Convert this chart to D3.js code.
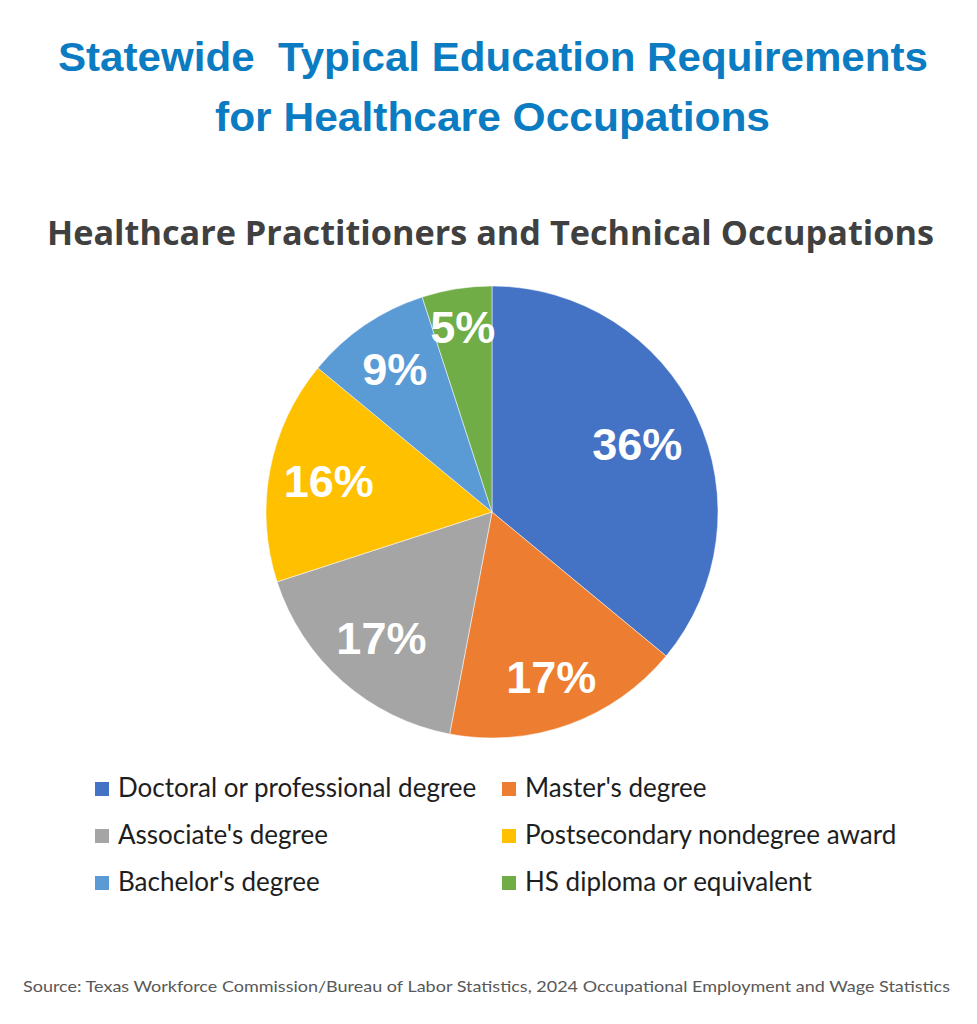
<!DOCTYPE html>
<html>
<head>
<meta charset="utf-8">
<script src="https://cdn.jsdelivr.net/npm/d3@7"></script>
<style>
  html, body { margin: 0; padding: 0; background: #ffffff; }
  svg { display: block; }
</style>
</head>
<body>
<svg id="chart" width="977" height="1024"></svg>
<script>
// ---- Data ----
const categories = [
  "Doctoral or professional degree",
  "Master's degree",
  "Associate's degree",
  "Postsecondary nondegree award",
  "Bachelor's degree",
  "HS diploma or equivalent"
];
const shares = [36, 17, 17, 16, 9, 5];
const valueLabels = ["36%", "17%", "17%", "16%", "9%", "5%"];
const titleLines = ["Statewide  Typical Education Requirements", "for Healthcare Occupations"];
const subtitle = "Healthcare Practitioners and Technical Occupations";
const sourceNote = "Source: Texas Workforce Commission/Bureau of Labor Statistics, 2024 Occupational Employment and Wage Statistics";

// ---- Style / layout ----
const colors = ["#4472C4", "#ED7D31", "#A5A5A5", "#FFC000", "#5B9BD5", "#70AD47"];
const labelRadiusFactor = [0.71, 0.775, 0.74, 0.735, 0.765, 0.83];
const cx = 492, cy = 512, R = 226;

const svg = d3.select("#chart");
svg.append("rect").attr("width", 977).attr("height", 1024).attr("fill", "#ffffff");

// Titles
const titleY = [71, 131];
const titleX = [58, 215];
const titleW = [870, 555];
titleLines.forEach((t, i) => {
  svg.append("text")
    .attr("x", titleX[i]).attr("y", titleY[i])
    .attr("font-family", "'Liberation Sans', Arial, sans-serif")
    .attr("font-weight", "bold")
    .attr("font-size", 40)
    .attr("fill", "#0b7bc2")
    .attr("textLength", titleW[i])
    .attr("lengthAdjust", "spacingAndGlyphs")
    .style("white-space", "pre")
    .text(t);
});

svg.append("text")
  .attr("x", 47).attr("y", 245)
  .attr("font-family", "'Open Sans', Lato, sans-serif")
  .attr("font-weight", "bold")
  .attr("font-size", 34)
  .attr("fill", "#404040")
  .attr("textLength", 887)
  .attr("lengthAdjust", "spacingAndGlyphs")
  .text(subtitle);

// Pie
const pie = d3.pie().sort(null).value(d => d)(shares);
const arc = d3.arc().innerRadius(0).outerRadius(R);
const g = svg.append("g").attr("transform", `translate(${cx},${cy})`);
g.selectAll("path.slice")
  .data(pie)
  .join("path")
  .attr("class", "slice")
  .attr("d", arc)
  .attr("fill", (d, i) => colors[i])
  .attr("stroke", "#ffffff")
  .attr("stroke-width", 0.5);

g.selectAll("text.lbl")
  .data(pie)
  .join("text")
  .attr("class", "lbl")
  .attr("transform", (d, i) => {
    const a = (d.startAngle + d.endAngle) / 2;
    const r = R * labelRadiusFactor[i];
    return `translate(${r * Math.sin(a)},${-r * Math.cos(a)})`;
  })
  .attr("text-anchor", "middle")
  .attr("dy", "0.36em")
  .attr("font-family", "'Liberation Sans', Arial, sans-serif")
  .attr("font-weight", "bold")
  .attr("font-size", 45)
  .attr("fill", "#ffffff")
  .text((d, i) => valueLabels[i]);

// Legend
const colX = [95, 502];
const rowY = [797, 844, 891];
const legend = svg.append("g");
categories.forEach((c, i) => {
  const col = i % 2, row = Math.floor(i / 2);
  const item = legend.append("g").attr("transform", `translate(${colX[col]},${rowY[row]})`);
  item.append("rect")
    .attr("x", 0).attr("y", -15)
    .attr("width", 14).attr("height", 14)
    .attr("fill", colors[i]);
  item.append("text")
    .attr("x", 23).attr("y", 0)
    .attr("font-family", "Lato, 'Open Sans', sans-serif")
    .attr("font-size", 26)
    .attr("fill", "#1e1e1e")
    .text(c);
});

// Source
svg.append("text")
  .attr("x", 23).attr("y", 992)
  .attr("font-family", "Lato, 'Open Sans', sans-serif")
  .attr("font-size", 16)
  .attr("fill", "#595959")
  .attr("textLength", 927)
  .attr("lengthAdjust", "spacingAndGlyphs")
  .text(sourceNote);
</script>
</body>
</html>
